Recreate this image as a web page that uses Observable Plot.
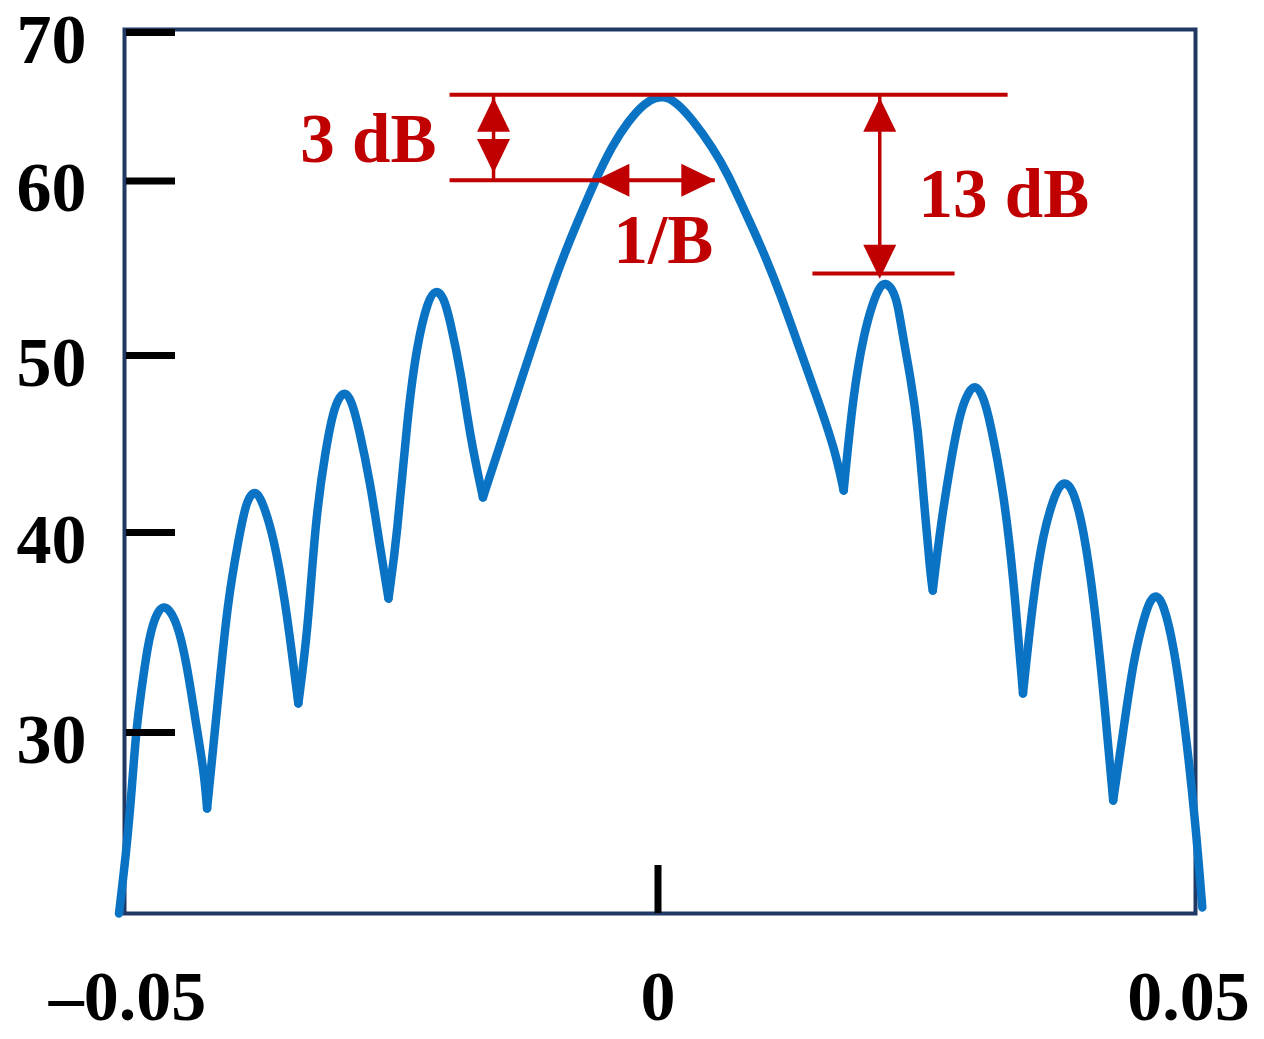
<!DOCTYPE html>
<html>
<head>
<meta charset="utf-8">
<script src="https://cdn.jsdelivr.net/npm/d3@7"></script>
<script src="https://cdn.jsdelivr.net/npm/@observablehq/plot@0.6"></script>
<style>
  html, body { margin: 0; padding: 0; background: #fff; overflow: hidden; }
  #chart svg { display: block; }
</style>
</head>
<body>
<div id="chart"></div>
<script>
// ---- Data (x: time offset, y: level in dB) ----
const xs = [-0.0508,-0.0501,-0.0496,-0.0492,-0.0487,-0.0481,-0.0475,-0.0466,-0.0453,-0.0443,-0.0436,-0.0428,-0.0425,
  -0.0415,-0.0406,-0.0395,-0.0388,-0.0380,-0.0373,-0.0362,-0.0351,-0.0343,-0.0339,
  -0.0330,-0.0323,-0.0313,-0.0306,-0.0300,-0.0295,-0.0289,-0.0282,-0.0271,-0.0262,-0.0254,
  -0.0246,-0.0236,-0.0227,-0.0217,-0.0210,-0.0202,-0.0196,-0.0186,-0.0177,-0.0165,
  -0.0130,-0.0095,-0.0076,-0.0059,-0.0043,-0.0028,-0.0012,-0.0002,0.0005,0.0016,0.0032,0.0052,0.0066,0.0080,0.0097,0.0116,0.0134,0.0153,0.0167,0.0175,
  0.0184,0.0194,0.0203,0.0209,0.0214,0.0221,0.0226,0.0231,0.0238,0.0245,0.0250,0.0257,0.0259,
  0.0266,0.0276,0.0285,0.0293,0.0299,0.0306,0.0313,0.0326,0.0335,0.0344,
  0.0354,0.0363,0.0373,0.0379,0.0385,0.0392,0.0401,0.0411,0.0420,0.0429,
  0.0439,0.0448,0.0458,0.0464,0.0470,0.0476,0.0486,0.0497,0.0507,0.0513];
const levels = [21.0,24.13,27.12,30.05,32.1,34.35,35.7,36.55,35.6,33.1,30.6,28.11,26.22,
  31.45,36.45,39.75,41.81,42.45,41.81,39.75,36.45,33.1,31.45,
  35.1,40.68,44.80,46.89,47.7,47.95,47.5,45.93,42.77,39.25,36.7,
  39.75,46.72,50.69,53.14,53.8,53.4,52.0,49.15,45.37,41.98,
  48.42,54.86,57.64,60.07,62.4,64.05,65.3,65.6,65.7,65.4,64.2,62.2,60.45,58.5,56.29,53.43,50.29,47.12,44.6,42.37,
  47.85,51.26,53.14,53.95,54.2,53.83,52.97,51.03,48.76,45.93,42.2,37.75,37.1,
  40.25,44.07,46.89,48.0,48.35,47.8,46.33,42.2,37.75,31.95,
  36.95,39.95,41.98,42.7,42.85,42.3,40.25,36.6,31.95,26.62,
  30.25,33.6,35.75,36.65,36.9,36.5,34.45,30.25,25.28,21.3];

const yTicks = [30, 40, 50, 60, 70];
const xTicks = [-0.05, 0, 0.05];
const xTickText = ["\u20130.05", "0", "0.05"];

// ---- Annotation values ----
const hLines = [
  {x1: -0.0196, x2: 0.0330, y: 65.8},   // main-lobe peak level
  {x1: -0.0196, x2: 0.0054, y: 60.05},  // -3 dB level / width 1/B
  {x1: 0.0146, x2: 0.0280, y: 54.7}     // first sidelobe level
];
const vLines = [
  {x: -0.0155, y1: 65.8, y2: 60.05},
  {x: 0.0209, y1: 65.8, y2: 54.7}
];
const tipsUp = [{x: -0.0155, y: 65.61}, {x: 0.0209, y: 65.61}];
const tipsDown = [{x: -0.0155, y: 60.54}, {x: 0.0209, y: 54.4}];
const tipsLeft = [{x: -0.0059, y: 60.05}];
const tipsRight = [{x: 0.0054, y: 60.05}];
const labels = [
  {x: -0.0273, y: 62.77, text: "3 dB"},
  {x: 0.0005, y: 56.57, text: "1/B"},
  {x: 0.0326, y: 59.23, text: "13 dB"}
];

// split the curve into lobes at its local minima (the nulls), sharing each null point
const curve = [];
let seg = 0;
xs.forEach((x, i) => {
  curve.push({x, y: levels[i], seg});
  const isNull = i > 0 && i < xs.length - 1 && levels[i] < levels[i - 1] && levels[i] < levels[i + 1];
  if (isNull) { seg++; curve.push({x, y: levels[i], seg}); }
});

// arrowhead symbols with the tip at the origin
const H = 34, W = 33;
const sym = pts => ({draw(ctx) { ctx.moveTo(0, 0); ctx.lineTo(pts[0], pts[1]); ctx.lineTo(pts[2], pts[3]); ctx.closePath(); }});
const symUp = sym([-W/2, H, W/2, H]);
const symDown = sym([-W/2, -H, W/2, -H]);
const symLeft = sym([H, -W/2, H, W/2]);
const symRight = sym([-H, -W/2, -H, W/2]);

const RED = "#C00000";
const BLUE = "#0A73C4";
const serif = "'Liberation Serif', 'Times New Roman', serif";

const chart = Plot.plot({
  width: 1264,
  height: 1039,
  marginTop: 29,
  marginRight: 69,
  marginBottom: 126,
  marginLeft: 124,
  style: {background: "#fff", color: "#000", overflow: "visible"},
  x: {domain: [-0.05, 0.05], range: [127, 1188], label: null},
  y: {type: "linear", domain: [21, 30, 40, 50, 60, 70], range: [913, 732, 532, 355, 180.5, 32], label: null},
  marks: [
    Plot.frame({stroke: "#1F3864", strokeWidth: 4}),
    Plot.line(curve, {x: "x", y: "y", z: "seg", stroke: BLUE, strokeWidth: 8.5, curve: "basis", strokeLinejoin: "round", strokeLinecap: "round"}),
    Plot.tickY(yTicks, {y: d => d, stroke: "#000", strokeWidth: 7, insetLeft: 2, insetRight: 1020}),
    Plot.tickX([0], {x: d => d, stroke: "#000", strokeWidth: 7, insetTop: 836}),
    Plot.axisY(yTicks, {tickSize: 0, tickPadding: 38, dy: 8, fontSize: 70, fontWeight: "bold", fontFamily: serif, fill: "#000"}),
    Plot.axisX(xTicks, {tickSize: 0, tickPadding: 57, fontSize: 70, fontWeight: "bold", fontFamily: serif, fill: "#000",
      tickFormat: d => xTickText[xTicks.indexOf(d)]}),
    Plot.ruleY(hLines, {x1: "x1", x2: "x2", y: "y", stroke: RED, strokeWidth: 4}),
    Plot.ruleX(vLines, {x: "x", y1: "y1", y2: "y2", stroke: RED, strokeWidth: 3.5}),
    Plot.dot(tipsUp, {x: "x", y: "y", symbol: symUp, r: 10, fill: RED, stroke: "none"}),
    Plot.dot(tipsDown, {x: "x", y: "y", symbol: symDown, r: 10, fill: RED, stroke: "none"}),
    Plot.dot(tipsLeft, {x: "x", y: "y", symbol: symLeft, r: 10, fill: RED, stroke: "none"}),
    Plot.dot(tipsRight, {x: "x", y: "y", symbol: symRight, r: 10, fill: RED, stroke: "none"}),
    Plot.text(labels, {x: "x", y: "y", text: "text", fill: RED, fontSize: 69, fontWeight: "bold", fontFamily: serif, textAnchor: "middle", lineAnchor: "middle"})
  ]
});
document.getElementById("chart").appendChild(chart);
</script>
</body>
</html>
